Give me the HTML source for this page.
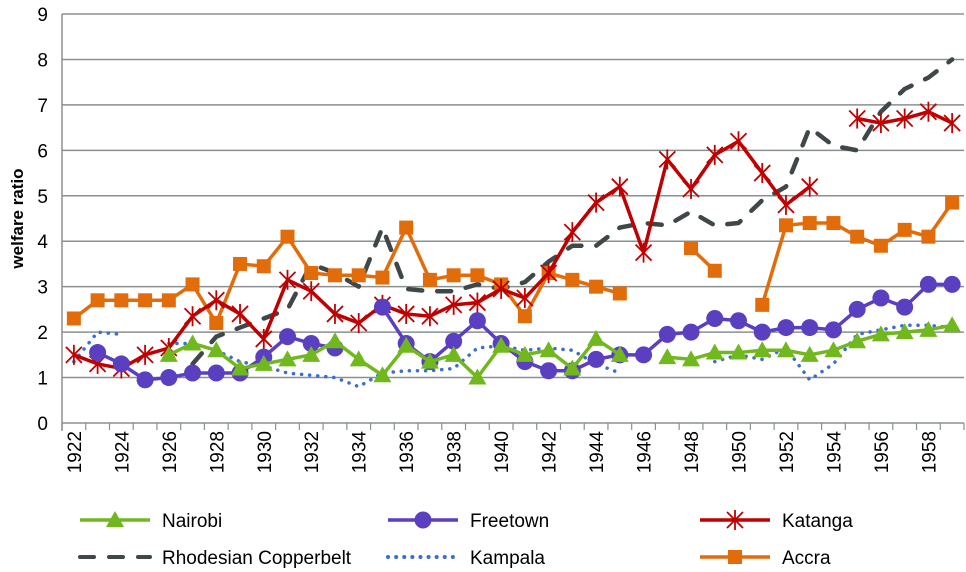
<!DOCTYPE html>
<html><head><meta charset="utf-8"><style>
body{margin:0;background:#fff;font-family:"Liberation Sans",sans-serif}
svg{display:block}
</style></head><body>
<svg id="chart" width="966" height="572"></svg>
<script>
const years=[1922,1923,1924,1925,1926,1927,1928,1929,1930,1931,1932,1933,1934,1935,1936,1937,1938,1939,1940,1941,1942,1943,1944,1945,1946,1947,1948,1949,1950,1951,1952,1953,1954,1955,1956,1957,1958,1959];
const yTicks=[0,1,2,3,4,5,6,7,8,9];
const nairobi=[null,null,null,null,1.5,1.75,1.6,1.2,1.3,1.4,1.5,1.8,1.4,1.05,1.7,1.35,1.5,1.0,1.7,1.5,1.6,1.2,1.85,1.5,null,1.45,1.4,1.55,1.55,1.6,1.6,1.5,1.6,1.8,1.95,2.0,2.05,2.15];
const freetown=[null,1.55,1.3,0.95,1.0,1.1,1.1,1.1,1.45,1.9,1.75,1.65,null,2.55,1.75,1.35,1.8,2.25,1.75,1.35,1.15,1.15,1.4,1.5,1.5,1.95,2.0,2.3,2.25,2.0,2.1,2.1,2.05,2.5,2.75,2.55,3.05,3.05];
const katanga=[1.5,1.3,1.2,1.5,1.65,2.35,2.7,2.4,1.85,3.15,2.9,2.4,2.2,2.6,2.4,2.35,2.6,2.65,2.95,2.75,3.3,4.2,4.85,5.2,3.75,5.8,5.15,5.9,6.2,5.5,4.8,5.2,null,6.7,6.6,6.7,6.85,6.6];
const copperbelt=[null,null,null,null,null,1.3,1.9,2.1,2.3,2.5,3.5,3.3,3.0,4.3,2.95,2.9,2.9,3.05,2.95,3.1,3.55,3.9,3.9,4.3,4.4,4.35,4.65,4.35,4.4,4.9,5.2,6.5,6.1,6.0,6.85,7.35,7.6,8.0];
const kampala=[1.35,2.0,1.95,null,1.75,1.75,1.6,1.35,1.25,1.1,1.05,1.0,0.8,1.1,1.15,1.15,1.2,1.65,1.7,1.6,1.65,1.6,1.3,1.1,null,null,null,1.35,1.5,1.4,1.65,0.95,1.3,1.95,2.05,2.15,2.15,2.1];
const accra=[2.3,2.7,2.7,2.7,2.7,3.05,2.2,3.5,3.45,4.1,3.3,3.25,3.25,3.2,4.3,3.15,3.25,3.25,3.05,2.35,3.3,3.15,3.0,2.85,null,null,3.85,3.35,null,2.6,4.35,4.4,4.4,4.1,3.9,4.25,4.1,4.85];

const NS="http://www.w3.org/2000/svg";
const svg=document.getElementById('chart');
const L=62,R=964,T=14,B=423,yMax=9;
const cw=(R-L)/years.length;
const xs=i=>L+cw*(i+0.5);
const ys=v=>B-(v/yMax)*(B-T);
function mk(tag,attrs,parent){const e=document.createElementNS(NS,tag);for(const k in attrs)e.setAttribute(k,attrs[k]);(parent||svg).appendChild(e);return e;}

yTicks.forEach(t=>{
  const g=mk('line',{x1:L,x2:R,y1:ys(t),y2:ys(t),stroke:'#8a9090','stroke-width':1.5});
  
  
  const tx=mk('text',{x:L-14,y:ys(t)+7,'text-anchor':'end','font-size':19,fill:'#000'});
  tx.textContent=t;
  
  
});
const ax=mk('line',{x1:L,x2:L,y1:T,y2:B+8,stroke:'#8a9090','stroke-width':1.5});


for(let i=0;i<=years.length;i++){mk('line',{x1:L+cw*i,x2:L+cw*i,y1:B,y2:B+7,stroke:'#8a9090','stroke-width':1.2});}
years.forEach((y,i)=>{
  if(y%2!==0)return;
  const tx=mk('text',{x:0,y:0,'text-anchor':'end','font-size':19,fill:'#000',transform:`translate(${xs(i)+7},${B+8}) rotate(-90)`});
  tx.textContent=y;
  
  
});
const yt=mk('text',{x:0,y:0,'text-anchor':'middle','font-size':17,'font-weight':'bold',transform:`translate(23,${(T+B)/2}) rotate(-90)`});
yt.textContent='welfare ratio';



function marker(type,x,y,color,g){
  if(type==='tri')mk('polygon',{points:`${x},${y-9} ${x-9},${y+7} ${x+9},${y+7}`,fill:color},g);
  else if(type==='circle')mk('circle',{cx:x,cy:y,r:8.5,fill:color},g);
  else if(type==='square')mk('rect',{x:x-7,y:y-7,width:14,height:14,fill:color},g);
  else if(type==='star'){
    [[-8,-8,8,8],[-8,8,8,-8],[0,-10,0,10]].forEach(d=>mk('line',{x1:x+d[0],y1:y+d[1],x2:x+d[2],y2:y+d[3],stroke:color,'stroke-width':1.8},g));
  }
}
function series(name,data,color,width,dash,mtype){
  const g=mk('g',{});
  
  
  let segs=[],cur=[];
  data.forEach((v,i)=>{if(v==null){if(cur.length)segs.push(cur);cur=[];}else cur.push([xs(i),ys(v)]);});
  if(cur.length)segs.push(cur);
  segs.forEach(s=>{
    const a={points:s.map(p=>p.join(',')).join(' '),fill:'none',stroke:color,'stroke-width':width,'stroke-linejoin':'round'};
    if(dash){a['stroke-dasharray']=dash;a['stroke-linecap']='round';}
    mk('polyline',a,g);
  });
  if(mtype)data.forEach((v,i)=>{if(v!=null)marker(mtype,xs(i),ys(v),color,g);});
}
series('kampala',kampala,'#3a6fd0',3.5,'0.1 8',null);
series('copperbelt',copperbelt,'#3f4748',4.5,'14 15',null);
series('accra',accra,'#e36c0a',3.5,null,'square');
series('katanga',katanga,'#c00000',3.5,null,'star');
series('freetown',freetown,'#5a3fc0',3.5,null,'circle');
series('nairobi',nairobi,'#70b81e',3.5,null,'tri');

const legend=[
 ['Nairobi','#70b81e',null,'tri',80,520],
 ['Freetown','#5a3fc0',null,'circle',388,520],
 ['Katanga','#c00000',null,'star',700,520],
 ['Rhodesian Copperbelt','#3f4748','14 15',null,80,557],
 ['Kampala','#3a6fd0','0.1 8',null,388,557],
 ['Accra','#e36c0a',null,'square',700,557]];
legend.forEach(l=>{
  const g=mk('g',{});
  
  
  const a={x1:l[4],x2:l[4]+70,y1:l[5],y2:l[5],stroke:l[1],'stroke-width':l[2]?4:3.5};
  if(l[2]){a['stroke-dasharray']=l[2];a['stroke-linecap']='round';}
  mk('line',a,g);
  if(l[3])marker(l[3],l[4]+35,l[5],l[1],g);
  const t=mk('text',{x:l[4]+82,y:l[5]+7,'font-size':19,fill:'#000'},g);
  t.textContent=l[0];
});
</script>
</body></html>
